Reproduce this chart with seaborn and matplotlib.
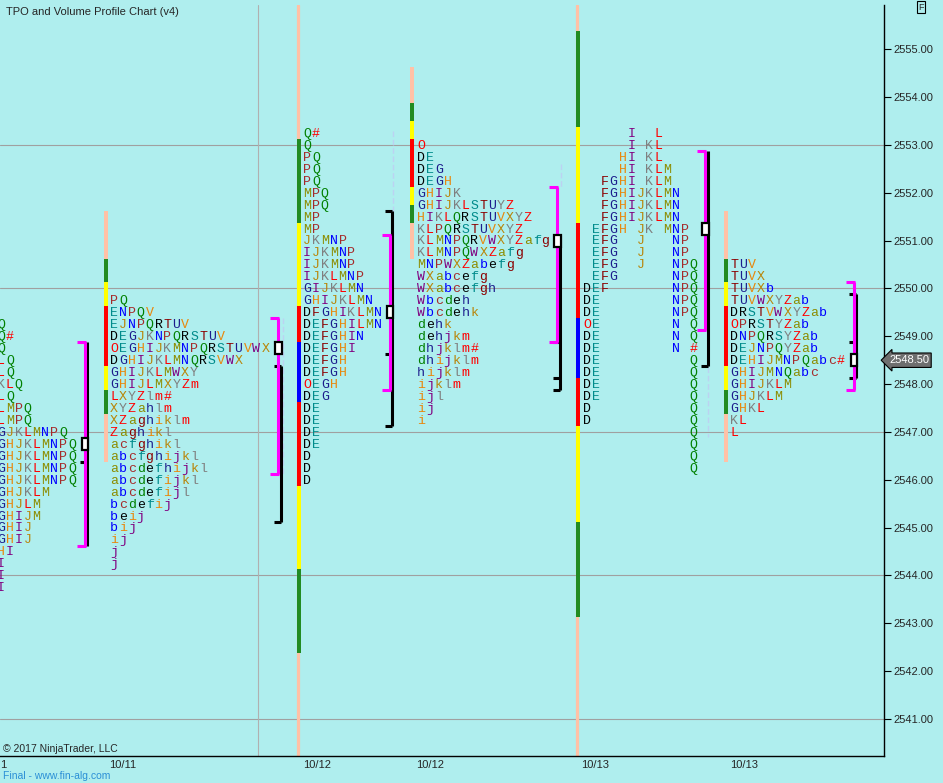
import numpy as np
import matplotlib
matplotlib.use('Agg')
import matplotlib.pyplot as plt
import seaborn as sns
from matplotlib.patches import Rectangle

sns.set_theme(style='white')
plt.rcParams['font.family'] = ['Liberation Sans', 'DejaVu Sans']

bg = '#afeeee'
salmon = '#ffc1a6'
tick = 0.25          # one TPO row
pitch = 8.9          # width of one letter column (chart x units)

# ---- TPO letters of each session (row 0 = highest price) ----
p0_x, p0_top = -3, 2549.25
p0_rows = ['Q', 'Q#', 'Q', 'LQ', 'LQ', 'KLQ', 'LQ', 'LMPQ', 'LMPQ', 'GJKLMNPQ',
           'GHJKLMNPQ', 'GHJKLMNPQ', 'GHJKLMNPQ', 'GHJKLMNPQ', 'GHJKLM', 'GHJLM',
           'GHIJM', 'GHIJ', 'GHIJ', 'HI', 'I', 'I', 'I']

p1_x, p1_top = 110, 2549.75
p1_rows = ['PQ', 'ENPQV', 'EJNPQRTUV', 'DEGJKNPQRSTUV', 'OEGHIJKMNPQRSTUVWX',
           'DGHIJKLMNQRSVWX', 'GHIJKLMWXY', 'GHIJLMXYZm', 'LXYZlm#', 'XYZahlm',
           'XZaghiklm', 'Zaghikl', 'acfghikl', 'abcfghijkl', 'abcdefhijkl',
           'abcdefijkl', 'abcdefijl', 'bcdefij', 'beij', 'bij', 'ij', 'j', 'j']

p2_x, p2_top = 303, 2553.25
p2_rows = ['Q#', 'Q', 'PQ', 'PQ', 'PQ', 'MPQ', 'MPQ', 'MP', 'MP', 'JKMNP', 'IJKMNP',
           'IJKMNP', 'IJKLMNP', 'GIJKLMN', 'GHIJKLMN', 'DFGHIKLMN', 'DEFGHILMN',
           'DEFGHIN', 'DEFGHI', 'DEFGH', 'DEFGH', 'OEGH', 'DEG', 'DE', 'DE', 'DE',
           'DE', 'D', 'D', 'D']

p3_x, p3_top = 417, 2553.0
p3_rows = ['O', 'DE', 'DEG', 'DEGH', 'GHIJK', 'GHIJKLSTUYZ', 'HIKLQRSTUVXYZ',
           'KLPQRSTUVXYZ', 'KLMNPQRVWXYZafg', 'KLMNPQWXZafg', 'MNPWXZabefg',
           'WXabcefg', 'WXabcefgh', 'Wbcdeh', 'Wbcdehk', 'dehk', 'dehjkm',
           'dhjklm#', 'dhijklm', 'hijklm', 'ijklm', 'ijl', 'ij', 'i']

p4_x, p4_top = 583, 2553.25
p4_rows = ['     I  L', '     I KL', '    HI KL', '    HI KLM', '  FGHI KLM',
           '  FGHIJKLMN', '  FGHIJKLMN', '  FGHIJKLMN', ' EFGH JK MNP',
           ' EFG  J   NP', ' EFG  J   NP', ' EFG  J   NPQ', ' EFG      NPQ',
           'DEF       NPQ', 'DE        NPQ', 'DE        NPQ', 'OE        N Q',
           'DE        N Q', 'DE        N #', 'DE          Q', 'DE          Q',
           'DE          Q', 'DE          Q', 'D           Q', 'D           Q',
           '            Q', '            Q', '            Q', '            Q']

p5_x, p5_top = 730, 2550.5
p5_rows = ['TUV', 'TUVX', 'TUVXb', 'TUVWXYZab', 'DRSTVWXYZab', 'OPRSTYZab',
           'DNPQRSYZab', 'DEJNPQYZab', 'DEHIJMNPQabc#', 'GHIJMNQabc', 'GHIJKLM',
           'GHJKLM', 'GHKL', 'KL', 'L']

profiles = [(p0_x, p0_top, p0_rows), (p1_x, p1_top, p1_rows), (p2_x, p2_top, p2_rows),
            (p3_x, p3_top, p3_rows), (p4_x, p4_top, p4_rows), (p5_x, p5_top, p5_rows)]

# letter colours repeat every 13 periods (O = open, # = close)
seq = 'DEFGHIJKLMNPQRSTUVWXYZabcdefghijklmnopqrstuvwxyz'
letter_colors = ['#000000', '#008b8b', '#8b0000', '#1c1c8c', '#e8870c', '#800080',
                 '#b8860b', '#808080', '#ff0000', '#8c8c00', '#0000ff', '#a52a2a',
                 '#008000']


def letter_color(ch):
    if ch in 'O#':
        return '#ff0000'
    return letter_colors[seq.index(ch) % 13]


# ---- coloured range bars at the left of each profile ----
bar_x = [106, 299, 411.5, 578, 725.5]
bar_edges = [
    [2551.625, 2550.625, 2550.125, 2549.625, 2548.375, 2547.875, 2547.375, 2546.375],
    [2553.125, 2551.375, 2549.625, 2548.875, 2547.625, 2545.875, 2544.125, 2542.375],
    [2554.625, 2553.875, 2553.5, 2553.125, 2552.125, 2551.75, 2551.375, 2550.625],
    [2555.375, 2553.375, 2551.375, 2549.375, 2548.125, 2547.125, 2545.125, 2543.125],
    [2551.625, 2550.625, 2550.125, 2549.625, 2548.375, 2547.875, 2547.375, 2546.375],
]
bar_cols = [
    ['salmon', 'green', 'yellow', 'red', 'yellow', 'green', 'salmon'],
    ['green', 'yellow', 'red', 'blue', 'red', 'yellow', 'green'],
    ['salmon', 'green', 'yellow', 'red', 'yellow', 'green', 'salmon'],
    ['green', 'yellow', 'red', 'blue', 'red', 'yellow', 'green'],
    ['salmon', 'green', 'yellow', 'red', 'yellow', 'green', 'salmon'],
]
col_map = {'salmon': salmon, 'green': '#228b22', 'yellow': '#ffff00',
           'red': '#ff0000', 'blue': '#0000ff'}

# ---- value area brackets ----
mag_range = [(2548.875, 2544.625), (2549.375, 2546.125), (2551.125, 2547.875),
             (2552.125, 2548.875), (2552.875, 2549.125), (2550.125, 2547.875)]
blk_range = [(2548.875, 2544.625), (2548.375, 2545.125), (2551.625, 2547.125),
             (2551.125, 2547.875), (2552.875, 2548.375), (2549.875, 2548.125)]
blk_ticks = [[2546.375], [2548.375, 2545.125], [2551.625, 2548.625, 2547.125],
             [2548.875, 2548.125, 2547.875], [2548.375], [2549.875, 2548.875, 2548.125]]
poc_price = [2546.75, 2548.75, 2549.5, 2551.0, 2551.25, 2548.5]
mag_x = [84.5, 278, 389.5, 557, 705, 853.5]
blk_x = [87, 280.5, 391.5, 559.5, 707.5, 856]

# faint developing lines
faint_x = [283, 393, 561, 708]
faint_range = [(2549.375, 2546.125), (2553.3, 2550.9), (2552.6, 2552.1), (2548.35, 2546.9)]

session_lines = [298, 577]
grid_prices = [2553, 2550, 2547, 2544, 2541]
grid_x = [258]
xtick_pos = [3.5, 123, 317, 430, 595, 744]
xtick_lab = ['1', '10/11', '10/12', '10/12', '10/13', '10/13']
last_price = 2548.50

fig = plt.figure(figsize=(9.43, 7.83), dpi=100, facecolor=bg)
ax = fig.add_axes([0, 27 / 783, 884 / 943, 751 / 783])
ax.set_facecolor(bg)
ax.set_xlim(0, 884)
ax.set_ylim(2540.226, 2555.926)

for p in grid_prices:
    ax.axhline(p, color='#a0a0a0', lw=0.8, zorder=0)
for gx in grid_x:
    ax.axvline(gx, color='#b0b0b0', lw=0.8, zorder=0)
for sx in session_lines:
    ax.axvline(sx, color=salmon, lw=2.3, zorder=1)
for fx, (ft, fb) in zip(faint_x, faint_range):
    ax.plot([fx, fx], [ft, fb], color='#bcd2f2', lw=1.0, ls=(0, (4, 2)), zorder=1)

for xc, edges, cols in zip(bar_x, bar_edges, bar_cols):
    edges = np.array(edges)
    ax.bar([xc] * len(cols), edges[:-1] - edges[1:], bottom=edges[1:], width=4,
           color=[col_map[c] for c in cols], linewidth=0, zorder=2)

for x0, top, rows in profiles:
    for i, row in enumerate(rows):
        y = top - i * tick
        for j, ch in enumerate(row):
            if ch == ' ':
                continue
            ax.text(x0 + j * pitch, y - 0.08, ch, color=letter_color(ch),
                    family='Liberation Mono', fontsize=9.5, ha='left',
                    va='baseline', clip_on=True, zorder=3)

for k in range(6):
    mt, mb = mag_range[k]
    bt, bb = blk_range[k]
    ax.plot([blk_x[k], blk_x[k]], [bt, bb], color='black', lw=2.2,
            solid_capstyle='butt', zorder=4)
    for t in blk_ticks[k]:
        ax.plot([blk_x[k] - 7, blk_x[k]], [t, t], color='black', lw=2.2,
                solid_capstyle='butt', zorder=4)
    ax.plot([mag_x[k], mag_x[k]], [mt, mb], color='#ff00ff', lw=2.2,
            solid_capstyle='butt', zorder=5)
    for t in (mt, mb):
        ax.plot([mag_x[k] - 8, mag_x[k] + 1], [t, t], color='#ff00ff', lw=2.2,
                solid_capstyle='butt', zorder=5)
    ax.add_patch(Rectangle((mag_x[k] - 3, poc_price[k] - tick / 2), 6.5, tick,
                           facecolor='white', edgecolor='black', lw=1.6, zorder=6))

ax.yaxis.tick_right()
yt = np.arange(2541, 2556)
ax.set_yticks(yt)
ax.set_yticklabels([f'{v:.2f}' for v in yt])
ax.tick_params(axis='y', direction='out', length=5, width=0.8, color='black',
               labelsize=8, pad=2, right=True, left=False)
ax.set_xticks(xtick_pos)
ax.set_xticklabels(xtick_lab)
ax.tick_params(axis='x', length=0, labelsize=8, pad=3)
for s in ['left', 'top']:
    ax.spines[s].set_visible(False)
for s in ['right', 'bottom']:
    ax.spines[s].set_color('black')
    ax.spines[s].set_linewidth(1)

ax.text(889, last_price, f'{last_price:.2f}', color='white', fontsize=8,
        ha='left', va='center', clip_on=False, zorder=7,
        bbox=dict(boxstyle='larrow,pad=0.2', fc='#6e6e6e', ec='black', lw=0.8))

fig.text(6 / 943, 1 - 12 / 783, 'TPO and Volume Profile Chart (v4)', fontsize=8,
         va='center', ha='left')
fig.text(3 / 943, 1 - 749 / 783, '© 2017 NinjaTrader, LLC', fontsize=7.5,
         va='center', ha='left')
fig.text(3 / 943, 1 - 776 / 783, 'Final - www.fin-alg.com', fontsize=7.5,
         color='#2b8fd6', va='center', ha='left')
fig.text(921 / 943, 1 - 7 / 783, 'F', fontsize=6.5, va='center', ha='center',
         bbox=dict(boxstyle='square,pad=0.15', fc=bg, ec='black', lw=0.8))

fig.savefig('out.png', dpi=100, facecolor=bg)
